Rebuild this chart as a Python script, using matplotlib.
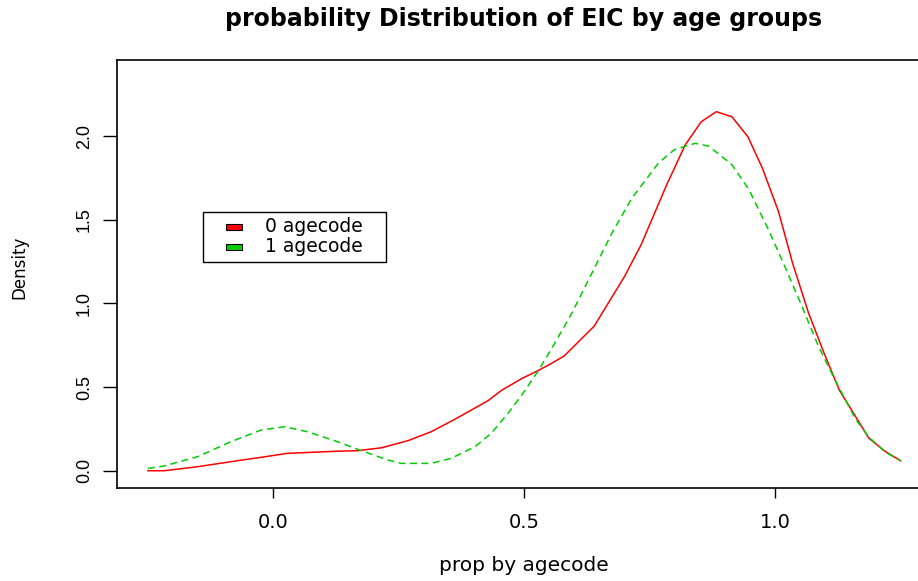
import matplotlib
matplotlib.use("Agg")
import matplotlib.pyplot as plt
from matplotlib.patches import Rectangle

plt.rcParams['font.family'] = ['DejaVu Sans']

# density estimates of prop, one curve per age group
x_age0 = [-0.249, -0.217, -0.150, -0.084, -0.024, 0.029, 0.076, 0.122, 0.169,
          0.216, 0.269, 0.315, 0.362, 0.429, 0.455, 0.495, 0.529, 0.555, 0.580,
          0.640, 0.700, 0.733, 0.784, 0.821, 0.853, 0.883, 0.914, 0.946, 0.975,
          1.007, 1.035, 1.067, 1.098, 1.128, 1.187, 1.220, 1.250]
dens_age0 = [0.0, 0.0, 0.024, 0.054, 0.080, 0.104, 0.110, 0.116, 0.120,
             0.137, 0.180, 0.233, 0.307, 0.420, 0.480, 0.550, 0.600, 0.642, 0.686,
             0.865, 1.160, 1.349, 1.708, 1.947, 2.086, 2.146, 2.116, 1.996, 1.807,
             1.548, 1.240, 0.940, 0.700, 0.482, 0.194, 0.114, 0.060]

x_age1 = [-0.249, -0.217, -0.150, -0.084, -0.024, 0.023, 0.069, 0.129, 0.176,
          0.229, 0.255, 0.315, 0.355, 0.402, 0.435, 0.468, 0.495, 0.529, 0.555,
          0.595, 0.635, 0.675, 0.715, 0.768, 0.800, 0.841, 0.868, 0.914, 0.948,
          0.987, 1.021, 1.054, 1.087, 1.120, 1.160, 1.187, 1.220, 1.250]
dens_age1 = [0.014, 0.028, 0.084, 0.173, 0.243, 0.263, 0.233, 0.173, 0.120,
             0.064, 0.044, 0.044, 0.074, 0.143, 0.224, 0.343, 0.450, 0.600, 0.730,
             0.940, 1.180, 1.420, 1.630, 1.840, 1.920, 1.957, 1.940, 1.830, 1.680,
             1.440, 1.210, 0.980, 0.740, 0.540, 0.310, 0.200, 0.110, 0.060]

group_labels = ["0 agecode", "1 agecode"]
group_colors = ["#FF0000", "#00CD00"]

xticks = [0.0, 0.5, 1.0]
yticks = [0.0, 0.5, 1.0, 1.5, 2.0]

fig = plt.figure(figsize=(9.18, 5.81), dpi=100)
ax = fig.add_axes([117.3 / 918, 1 - 488.3 / 581, (930.7 - 117.3) / 918, (488.3 - 60) / 581])

ax.plot(x_age0, dens_age0, color=group_colors[0], lw=1.1)
ax.plot(x_age1, dens_age1, color=group_colors[1], lw=1.1, dashes=(4.5, 3))

ax.set_xlim(-0.31, 1.31)
ax.set_ylim(-0.105, 2.455)
ax.set_xticks(xticks)
ax.set_xticklabels([f"{v:.1f}" for v in xticks], fontsize=14)
ax.set_yticks(yticks)
ax.set_yticklabels([f"{v:.1f}" for v in yticks], fontsize=13, rotation=90, va='center',
                   family='Liberation Sans')
ax.tick_params(axis='x', length=7.5, width=1, pad=10.6)
ax.tick_params(axis='y', length=10, width=1, pad=7.6)
for sp in ax.spines.values():
    sp.set_linewidth(1.2)

ax.set_xlabel("prop by agecode", fontsize=14.5)
ax.xaxis.set_label_coords(0.5, -0.181)
ax.xaxis.label.set_va('center')
ax.set_ylabel("Density", fontsize=12)
ax.yaxis.set_label_coords(-0.121, 0.517)
ax.yaxis.label.set_va('center')

fig.text(524 / 918, 1 - 19 / 581, "probability Distribution of EIC by age groups",
         ha='center', va='center', fontsize=17, fontweight='bold')

# legend box, drawn by hand in axes fractions
leg_left, leg_top, leg_w, leg_h = 0.1054, 0.6451, 0.2251, 0.1167
key_left, key_w, key_h = 0.1336, 0.0197, 0.0155
text_left, row0, row_step = 0.1816, 0.6101, 0.0467
ax.add_patch(Rectangle((leg_left, leg_top - leg_h), leg_w, leg_h, transform=ax.transAxes,
                       fc='white', ec='black', lw=1.0, zorder=5))
for i, (lab, col) in enumerate(zip(group_labels, group_colors)):
    yc = row0 - i * row_step
    ax.add_patch(Rectangle((key_left, yc - key_h / 2), key_w, key_h, transform=ax.transAxes,
                           fc=col, ec='black', lw=0.8, zorder=6))
    ax.text(text_left, yc, lab, transform=ax.transAxes, fontsize=13.5,
            ha='left', va='center', zorder=6)

fig.savefig("out.png", dpi=100)
